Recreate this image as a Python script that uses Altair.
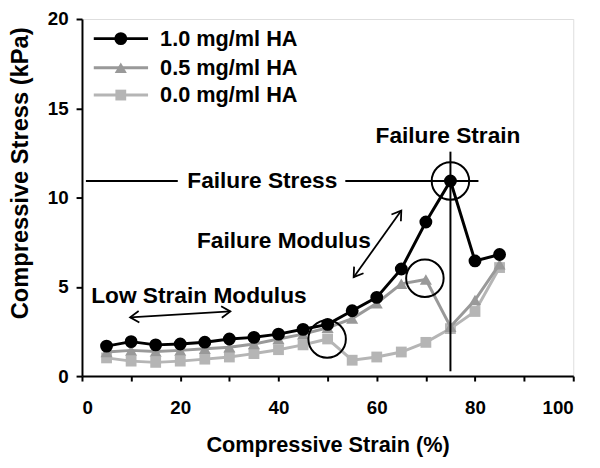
import altair as alt
import pandas as pd

# ---- data ----
strain = [5, 10, 15, 20, 25, 30, 35, 40, 45, 50, 55, 60, 65, 70, 75, 80, 85]
ha_10 = [1.68, 1.93, 1.75, 1.8, 1.9, 2.08, 2.17, 2.35, 2.62, 2.9, 3.66, 4.41, 6.0, 8.63, 10.93, 6.45, 6.81]
ha_05 = [1.35, 1.44, 1.38, 1.44, 1.53, 1.62, 1.8, 2.08, 2.35, 2.71, 3.22, 4.08, 5.17, 5.41, 2.77, 4.26, 6.27]
ha_00 = [1.02, 0.84, 0.77, 0.84, 0.95, 1.07, 1.26, 1.48, 1.75, 2.08, 0.89, 1.07, 1.35, 1.89, 2.66, 3.62, 6.08]

series_names = ["1.0 mg/ml HA", "0.5 mg/ml HA", "0.0 mg/ml HA"]
series_values = [ha_10, ha_05, ha_00]
series_colors = ["#000000", "#999999", "#b5b5b5"]
series_shapes = ["circle", "triangle-up", "square"]
series_sizes = [170, 150, 120]

# annotation texts and anchors (data coordinates)
ann_text = ["Failure Stress", "Failure Strain", "Failure Modulus", "Low Strain Modulus"]
ann_x = [36.7, 74.5, 41.1, 23.8]
ann_y = [10.93, 13.44, 7.54, 4.5]

# annotation circles
circ_x = [49.9, 69.8, 75.0]
circ_y = [2.08, 5.48, 10.93]

# failure stress horizontal segments, failure strain vertical line
hseg_x = [0.8, 53.6]
hseg_x2 = [19.5, 80.7]
hseg_y = [10.93, 10.93]
vline_x = [75.0]
vline_y = [0.27]
vline_y2 = [12.57]

# double-headed arrows
arr_x = [9.8, 55.3]
arr_y = [3.29, 5.54]
arr_x2 = [30.2, 65.0]
arr_y2 = [3.62, 9.27]
arr_ang_start = [176.6, 125.3]
arr_ang_end = [356.6, 305.3]

# legend rows
leg_y = [18.9, 17.27, 15.74]

FONT = "Liberation Sans"

x_scale = alt.Scale(domain=[0, 100], nice=False, zero=False)
y_scale = alt.Scale(domain=[0, 20], nice=False)

x_axis = alt.Axis(
    values=list(range(0, 101, 10)),
    labelExpr="datum.value % 20 == 0 ? datum.label : ''",
    title="Compressive Strain (%)",
    grid=False, domainColor="black", domainWidth=2,
    tickColor="black", tickWidth=2, tickSize=5,
    labelFont=FONT, labelFontWeight="bold", labelFontSize=19, labelColor="black",
    labelPadding=18,
    titleFont=FONT, titleFontWeight="bold", titleFontSize=22, titleColor="black",
    titleBaseline="alphabetic", titleY=76,
)
y_axis = alt.Axis(
    values=[0, 5, 10, 15, 20],
    title="Compressive Stress (kPa)",
    grid=False, domainColor="black", domainWidth=2,
    tickColor="black", tickWidth=2, tickSize=6,
    labelFont=FONT, labelFontWeight="bold", labelFontSize=19, labelColor="black",
    labelPadding=8,
    titleFont=FONT, titleFontWeight="bold", titleFontSize=24, titleColor="black",
    titleAngle=270, titleBaseline="alphabetic", titleAlign="center",
    titleX=-55, titleY=156,
)


def X(f):
    return alt.X(f, type="quantitative", scale=x_scale, axis=x_axis)


def Y(f):
    return alt.Y(f, type="quantitative", scale=y_scale, axis=y_axis)


layers = []

# data series, drawn light first so the black one is on top
for i in [2, 1, 0]:
    df = pd.DataFrame({"x": strain, "y": series_values[i]})
    base = alt.Chart(df)
    layers.append(base.mark_line(color=series_colors[i], strokeWidth=3).encode(x=X("x"), y=Y("y")))
    layers.append(
        base.mark_point(shape=series_shapes[i], filled=True, size=series_sizes[i],
                        color=series_colors[i], opacity=1).encode(x=X("x"), y=Y("y"))
    )

# failure stress segments
hdf = pd.DataFrame({"x": hseg_x, "x2": hseg_x2, "y": hseg_y})
layers.append(alt.Chart(hdf).mark_rule(color="black", strokeWidth=2).encode(x=X("x"), x2="x2", y=Y("y")))

# failure strain vertical
vdf = pd.DataFrame({"x": vline_x, "y": vline_y, "y2": vline_y2})
layers.append(alt.Chart(vdf).mark_rule(color="black", strokeWidth=2).encode(x=X("x"), y=Y("y"), y2="y2"))

# circles
cdf = pd.DataFrame({"x": circ_x, "y": circ_y})
layers.append(
    alt.Chart(cdf).mark_point(shape="circle", filled=False, size=1444, color="black",
                              strokeWidth=2, opacity=1).encode(x=X("x"), y=Y("y"))
)

# arrows
adf = pd.DataFrame({"x": arr_x, "y": arr_y, "x2": arr_x2, "y2": arr_y2})
layers.append(alt.Chart(adf).mark_rule(color="black", strokeWidth=1.8).encode(x=X("x"), y=Y("y"), x2="x2", y2="y2"))
head_path = "M -1 -0.65 L 0 0 L -1 0.65"
hdf1 = pd.DataFrame({"x": arr_x + arr_x2, "y": arr_y + arr_y2, "a": arr_ang_start + arr_ang_end})
layers.append(
    alt.Chart(hdf1).mark_point(shape=head_path, filled=False, size=324, color="black",
                               strokeWidth=1.8, opacity=1).encode(
        x=X("x"), y=Y("y"), angle=alt.Angle("a:Q", scale=None)
    )
)

# annotation texts
tdf = pd.DataFrame({"x": ann_x, "y": ann_y, "t": ann_text})
layers.append(
    alt.Chart(tdf).mark_text(font=FONT, fontWeight="bold", fontSize=23, color="black",
                             align="center", baseline="middle").encode(x=X("x"), y=Y("y"), text="t:N")
)

# legend (manual, inside plot at top-left)
for i in range(3):
    ldf = pd.DataFrame({"x": [2.4], "x2": [13.45], "xm": [7.9], "xt": [15.9], "y": [leg_y[i]], "t": [series_names[i]]})
    lb = alt.Chart(ldf)
    layers.append(lb.mark_rule(color=series_colors[i], strokeWidth=3).encode(x=X("x"), x2="x2", y=Y("y")))
    layers.append(
        lb.mark_point(shape=series_shapes[i], filled=True, size=series_sizes[i],
                      color=series_colors[i], opacity=1).encode(x=X("xm"), y=Y("y"))
    )
    layers.append(
        lb.mark_text(font=FONT, fontWeight="bold", fontSize=22, color="black",
                     align="left", baseline="middle").encode(x=X("xt"), y=Y("y"), text="t:N")
    )

chart = alt.layer(*layers).properties(
    width=498, height=362,
    autosize=alt.AutoSizeParams(type="none"),
    padding={"left": 75, "top": 8, "right": 19, "bottom": 90},
).configure_view(stroke="black", strokeWidth=2).configure(background="white")

chart.save("out.html", embed_options={"renderer": "svg", "actions": False})
